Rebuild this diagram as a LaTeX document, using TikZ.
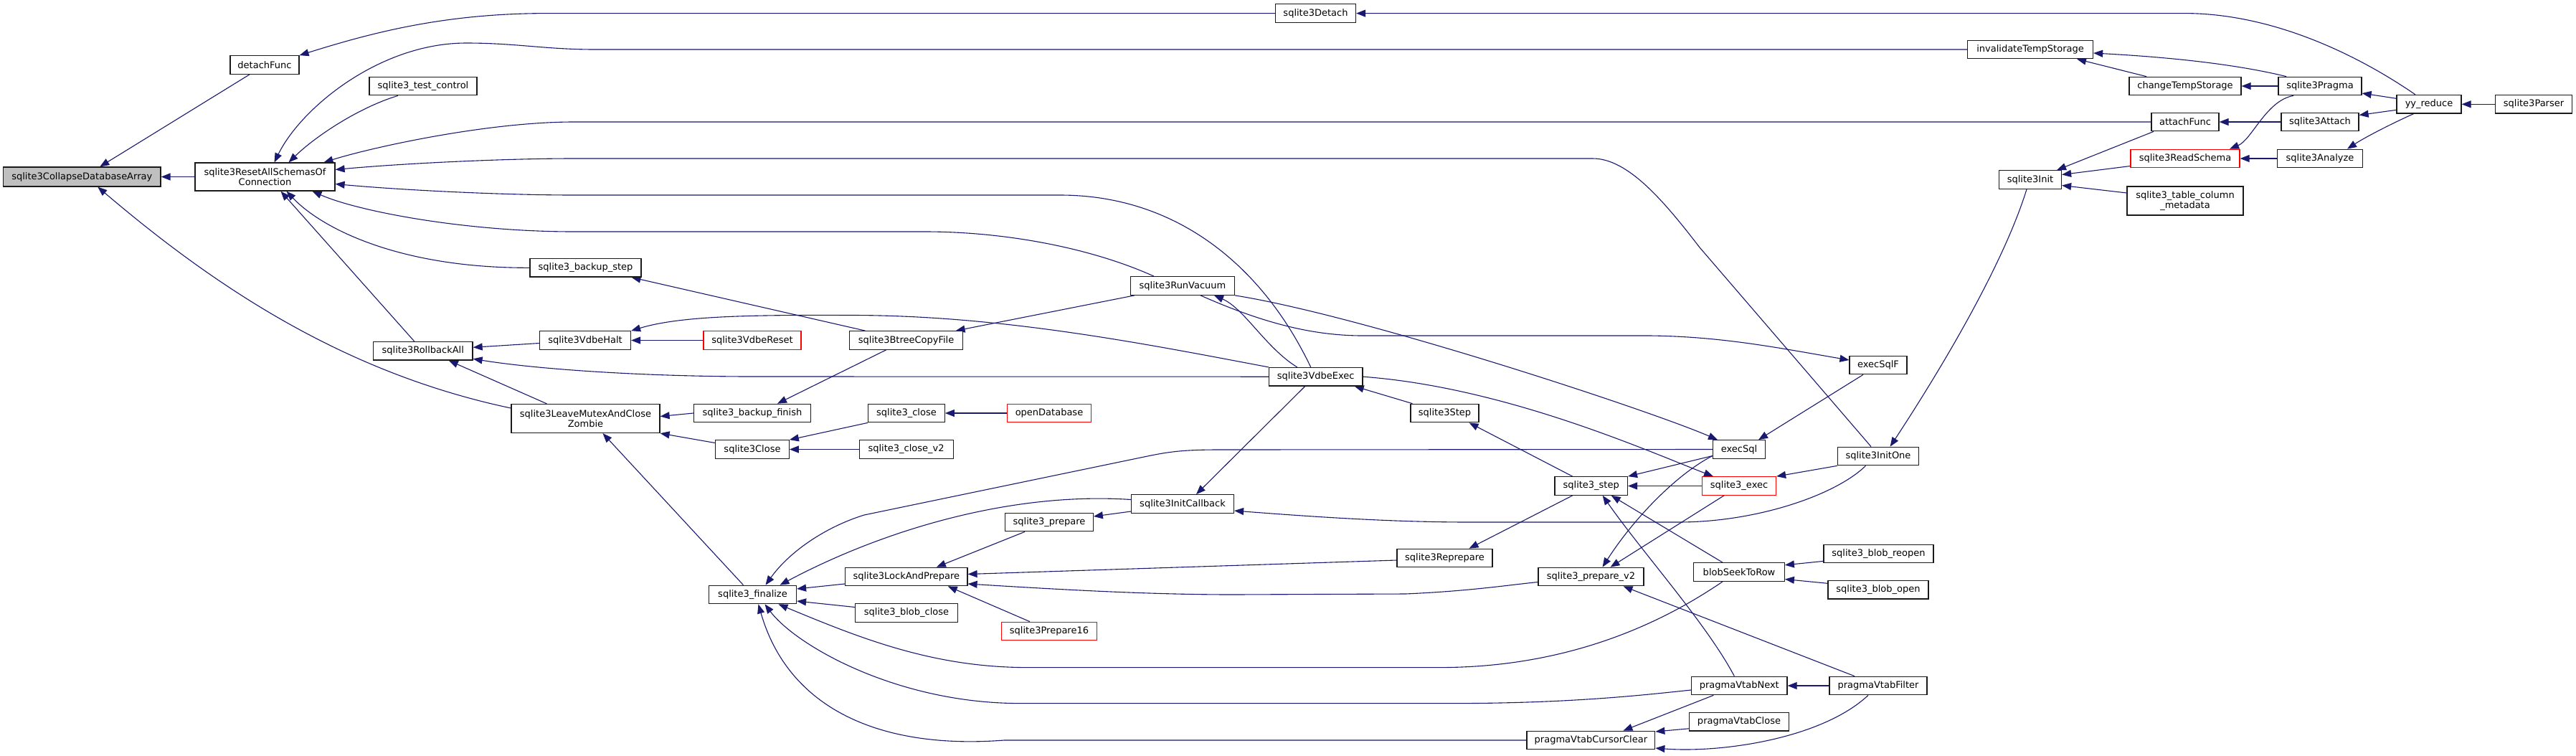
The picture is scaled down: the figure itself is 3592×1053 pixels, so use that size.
\documentclass[tikz,border=0pt]{standalone}
\usepackage{fontspec}
\setmainfont{DejaVu Sans}
\usetikzlibrary{arrows.meta,backgrounds}
\definecolor{ecol}{HTML}{191970}
\definecolor{mainfill}{HTML}{BFBFBF}
\definecolor{bcol}{HTML}{1A1A1A}
\definecolor{rcol}{HTML}{FF0000}
\begin{document}
\begin{tikzpicture}[x=1pt,y=-1pt,
  nbox/.style={draw=bcol, line width=1.2pt, fill=white, minimum height=25.5pt, inner sep=1pt, font=\fontsize{13}{14.5}\selectfont, text=black},
  rbox/.style={nbox, draw=rcol},
  tbox/.style={nbox, minimum height=40pt, align=center},
  edg/.style={draw=ecol, line width=1.1pt, {Triangle[length=13pt,width=10pt]}-},
]
\useasboundingbox (0,0) rectangle (3592,1053);
% nodes
\node[nbox, fill=mainfill, minimum width=219.4pt, minimum height=27pt] (main) at (114.3,246.5) {sqlite3CollapseDatabaseArray};
\node[nbox, minimum width=96pt] (detachf) at (369,90.5) {detachFunc};
\node[tbox, minimum width=195pt, minimum height=39pt] (reset) at (369.5,246.5) {sqlite3ResetAllSchemasOf\\Connection};
\node[nbox, minimum width=150pt] (tc) at (590,120) {sqlite3\_test\_control};
\node[nbox, minimum width=138.5pt] (rollback) at (589.8,489.3) {sqlite3RollbackAll};
\node[nbox, minimum width=155pt] (bstep) at (816.5,373.3) {sqlite3\_backup\_step};
\node[nbox, minimum width=127pt] (vhalt) at (816,474.5) {sqlite3VdbeHalt};
\node[rbox, minimum width=136pt] (vreset) at (1049,474.5) {sqlite3VdbeReset};
\node[nbox, minimum width=158pt] (btree) at (1263.6,474.5) {sqlite3BtreeCopyFile};
\node[tbox, minimum width=207pt] (leave) at (816.5,583.5) {sqlite3LeaveMutexAndClose\\Zombie};
\node[nbox, minimum width=163pt] (bfinish) at (1049,576) {sqlite3\_backup\_finish};
\node[nbox, minimum width=102.5pt] (close) at (1049,626.5) {sqlite3Close};
\node[nbox, minimum width=122pt] (finalize) at (1049.5,829) {sqlite3\_finalize};
\node[nbox, minimum width=144.5pt] (runvac) at (1649,398.5) {sqlite3RunVacuum};
\node[nbox, minimum width=130.7pt] (vdbeexec) at (1834.7,525.2) {sqlite3VdbeExec};
\node[nbox, minimum width=106.5pt] (sclose) at (1264,576) {sqlite3\_close};
\node[rbox, minimum width=116.5pt] (opendb) at (1463,576) {openDatabase};
\node[nbox, minimum width=131pt] (closev2) at (1263.6,626.5) {sqlite3\_close\_v2};
\node[nbox, minimum width=143pt] (initcb) at (1649,702.5) {sqlite3InitCallback};
\node[nbox, minimum width=122.5pt] (prepare) at (1463,728) {sqlite3\_prepare};
\node[nbox, minimum width=170.4pt] (lockprep) at (1263.8,804) {sqlite3LockAndPrepare};
\node[nbox, minimum width=143pt] (blobclose) at (1264,854.5) {sqlite3\_blob\_close};
\node[rbox, minimum width=132.5pt] (prep16) at (1463,880) {sqlite3Prepare16};
\node[nbox, minimum width=112pt] (detach) at (1834.5,18.6) {sqlite3Detach};
\node[nbox, minimum width=95pt] (vstep) at (2014.5,576) {sqlite3Step};
\node[nbox, minimum width=101.5pt] (sstep) at (2218.7,677.5) {sqlite3\_step};
\node[nbox, minimum width=133pt] (reprep) at (2014.5,778) {sqlite3Reprepare};
\node[nbox, minimum width=147pt] (prepv2) at (2218.5,804) {sqlite3\_prepare\_v2};
\node[nbox, minimum width=178.7pt] (cclear) at (2218.4,1032) {pragmaVtabCursorClear};
\node[nbox, minimum width=175pt] (inv) at (2831,69) {invalidateTempStorage};
\node[nbox, minimum width=87pt] (sinit) at (2831,250.5) {sqlite3Init};
\node[nbox, minimum width=80pt] (execsqlf) at (2619,509) {execSqlF};
\node[nbox, minimum width=73pt] (execsql) at (2425,626.5) {execSql};
\node[nbox, minimum width=113pt] (initone) at (2619,636) {sqlite3InitOne};
\node[rbox, minimum width=103pt] (sexec) at (2425,677.5) {sqlite3\_exec};
\node[nbox, minimum width=126.6pt] (seek) at (2425,797.5) {blobSeekToRow};
\node[nbox, minimum width=153pt] (breopen) at (2619.5,772) {sqlite3\_blob\_reopen};
\node[nbox, minimum width=140pt] (bopen) at (2619,822.3) {sqlite3\_blob\_open};
\node[nbox, minimum width=133.4pt] (vnext) at (2425.3,956) {pragmaVtabNext};
\node[nbox, minimum width=136pt] (vfilter) at (2619,956) {pragmaVtabFilter};
\node[nbox, minimum width=139pt] (vclose) at (2425,1006.3) {pragmaVtabClose};
\node[nbox, minimum width=156pt] (ctemp) at (3047,120) {changeTempStorage};
\node[nbox, minimum width=116pt] (pragma) at (3235,120) {sqlite3Pragma};
\node[nbox, minimum width=90pt] (yy) at (3387,145.3) {yy\_reduce};
\node[nbox, minimum width=107pt] (parser) at (3533,145.3) {sqlite3Parser};
\node[nbox, minimum width=94pt] (attachf) at (3047,170) {attachFunc};
\node[nbox, minimum width=108pt] (attach) at (3235,170) {sqlite3Attach};
\node[rbox, minimum width=152pt] (readschema) at (3047,221) {sqlite3ReadSchema};
\node[nbox, minimum width=119pt] (analyze) at (3235,221) {sqlite3Analyze};
\node[tbox, minimum width=162pt] (tcm) at (3047,280) {sqlite3\_table\_column\\\_metadata};
% edges
\begin{scope}[on background layer]
\fill[white] (0,0) rectangle (3592,1053);
\draw[edg] ([xshift=25pt]main.north) -- ([xshift=-21pt]detachf.south);
\draw[edg] (main.east) -- (reset.west);
\draw[edg] ([xshift=22pt]main.south) .. controls (300,400) and (480,520) .. ([yshift=14.5pt]leave.west);
\draw[edg] (detachf.north east) .. controls (520,45) and (620,19) .. (760,18.6) -- (detach.west);
\draw[edg] (detach.east) -- (3050,18.6) .. controls (3180,20) and (3300,85) .. ([xshift=-19pt]yy.north);
\draw[edg] ([xshift=13pt]reset.north) .. controls (420,150) and (530,60) .. (650,60) .. controls (720,60) and (760,69) .. (830,69) -- (inv.west);
\draw[edg] ([xshift=33pt]reset.north) .. controls (440,190) and (500,150) .. ([xshift=-35pt]tc.south);
\draw[edg] ([xshift=82pt]reset.north) .. controls (520,205) and (680,170) .. (800,170) -- (attachf.west);
\draw[edg] ([yshift=10pt]reset.east) .. controls (560,228) and (700,221) .. (800,221) -- (2221,221) .. controls (2270,221) and (2320,280) .. (2370,345) -- ([xshift=-10pt]initone.north);
\draw[edg] ([yshift=-10pt]reset.east) .. controls (560,265) and (700,272) .. (800,272) -- (1478,272) .. controls (1640,272) and (1760,370) .. ([xshift=-7pt]vdbeexec.north);
\draw[edg] ([xshift=66pt]reset.south) .. controls (500,295) and (650,323) .. (800,323) -- (1290,323) .. controls (1400,323) and (1520,345) .. ([xshift=-40pt]runvac.north);
\draw[edg] ([xshift=30pt]reset.south) .. controls (450,320) and (560,374) .. (bstep.west);
\draw[edg] ([xshift=22pt]reset.south) -- ([xshift=-12pt]rollback.north);
\draw[edg] ([yshift=5pt]rollback.east) -- ([yshift=-4pt]vhalt.west);
\draw[edg] ([yshift=-11pt]rollback.east) .. controls (750,515) and (900,525) .. (1050,525) -- (vdbeexec.west);
\draw[edg] ([xshift=36pt]rollback.south) -- ([xshift=-54pt]leave.north);
\draw[edg] (vhalt.east) -- (vreset.west);
\draw[edg] (vhalt.north east) .. controls (950,440) and (1050,439) .. (1190,439.5) .. controls (1400,440) and (1600,480) .. (vdbeexec.north west);
\draw[edg] ([xshift=64pt]bstep.south) -- ([xshift=-57pt]btree.north);
\draw[edg] ([xshift=35pt]bfinish.north) -- ([xshift=-28pt]btree.south);
\draw[edg] ([xshift=69pt]btree.north) -- ([xshift=-67pt]runvac.south);
\draw[edg] ([xshift=44pt]runvac.south) .. controls (1735,430) and (1765,485) .. ([xshift=-26pt]vdbeexec.north);
\draw[edg] ([yshift=7pt]execsqlf.west) .. controls (2480,485) and (2400,469) .. (2300,468) -- (1900,468) .. controls (1830,468) and (1760,450) .. ([xshift=25pt]runvac.south);
\draw[edg] ([xshift=-30pt]execsql.north) .. controls (2300,572) and (1900,440) .. (runvac.south east);
\draw[edg] ([yshift=3pt]leave.east) -- (bfinish.west);
\draw[edg] (leave.south east) -- ([yshift=9pt]close.west);
\draw[edg] ([xshift=24pt]leave.south) -- ([xshift=-13pt]finalize.north);
\draw[edg] (close.north east) -- (sclose.south west);
\draw[edg] (close.east) -- (closev2.west);
\draw[edg] (sclose.east) -- (opendb.west);
\draw[edg] ([xshift=18pt]finalize.north) .. controls (1100,770) and (1150,735) .. (1205,718) -- (1600,636) .. controls (1630,629.8) and (1650,627) .. (1700,627) -- (execsql.west);
\draw[edg] ([xshift=38pt]finalize.north) .. controls (1220,745) and (1400,685) .. ([yshift=6pt]initcb.west);
\draw[edg] ([yshift=8pt]finalize.east) -- ([yshift=-10pt]lockprep.west);
\draw[edg] ([yshift=-9pt]finalize.east) -- ([yshift=8pt]blobclose.west);
\draw[edg] ([xshift=36pt]finalize.south) .. controls (1200,890) and (1300,930) .. (1430,930.6) -- (2010,930.6) .. controls (2200,930) and (2330,860) .. ([xshift=-23pt]seek.south);
\draw[edg] ([xshift=17pt]finalize.south) .. controls (1110,900) and (1250,980) .. (1420,980.6) -- (2040,980.6) .. controls (2200,980) and (2300,968) .. ([yshift=-6pt]vnext.west);
\draw[edg] ([xshift=8pt]finalize.south) .. controls (1100,990) and (1230,1045) .. (1400,1032) -- (cclear.west);
\draw[edg] ([xshift=42pt]lockprep.north) -- ([xshift=-34pt]prepare.south);
\draw[edg] ([xshift=58pt]lockprep.south) -- ([xshift=-27pt]prep16.north);
\draw[edg] ([yshift=3.5pt]lockprep.east) -- ([yshift=-3pt]reprep.west);
\draw[edg] ([yshift=-10pt]lockprep.east) .. controls (1480,822) and (1600,829) .. (1720,829) -- (1960,828) .. controls (2050,824) and (2100,816) .. ([yshift=-7.5pt]prepv2.west);
\draw[edg] ([yshift=8pt]prepare.east) -- ([yshift=-10.5pt]initcb.west);
\draw[edg] ([yshift=-9.5pt]initcb.east) .. controls (1850,722) and (1950,728) .. (2050,728) -- (2340,728) .. controls (2450,728) and (2560,690) .. ([xshift=-17.5pt]initone.south);
\draw[edg] ([xshift=19pt]initcb.north) -- ([xshift=-15pt]vdbeexec.south);
\draw[edg] ([xshift=54pt]vdbeexec.south) -- ([xshift=-45pt]vstep.north);
\draw[edg] ([xshift=-36pt]sexec.north) .. controls (2300,630) and (2100,540) .. (vdbeexec.east);
\draw[edg] ([xshift=34pt]vstep.south) -- ([xshift=-26pt]sstep.north);
\draw[edg] ([xshift=34pt]reprep.north) -- ([xshift=-26pt]sstep.south);
\draw[edg] (sstep.north east) -- ([yshift=-9pt]execsql.west);
\draw[edg] (sstep.east) -- (sexec.west);
\draw[edg] ([xshift=28pt]sstep.south) -- ([xshift=-23pt]seek.north);
\draw[edg] ([xshift=16pt]sstep.south) .. controls (2290,770) and (2380,870) .. ([xshift=-7pt]vnext.north);
\draw[edg] ([xshift=16pt]prepv2.north) .. controls (2280,720) and (2340,660) .. ([yshift=-9pt]execsql.west);
\draw[edg] ([xshift=27pt]prepv2.north) -- ([xshift=-21pt]sexec.south);
\draw[edg] ([xshift=45pt]prepv2.south) -- ([xshift=-33pt]vfilter.north);
\draw[edg] ([xshift=45pt]cclear.north) -- ([xshift=-36pt]vnext.south);
\draw[edg] ([yshift=12pt]cclear.east) -- ([yshift=-9.5pt]vclose.west);
\draw[edg] ([yshift=-11pt]cclear.east) .. controls (2400,1050) and (2540,1030) .. ([xshift=-14pt]vfilter.south);
\draw[edg] (vnext.east) -- (vfilter.west);
\draw[edg] ([yshift=9.7pt]seek.east) -- ([yshift=-10.4pt]breopen.west);
\draw[edg] ([yshift=-10pt]seek.east) -- ([yshift=9pt]bopen.west);
\draw[edg] ([xshift=27pt]execsql.north) -- ([xshift=-21pt]execsqlf.south);
\draw[edg] (sexec.north east) -- (initone.south west);
\draw[edg] ([xshift=16.6pt]initone.north) .. controls (2690,540) and (2790,380) .. ([xshift=-5pt]sinit.south);
\draw[edg] ([xshift=37pt]sinit.north) -- ([xshift=-44pt]attachf.south);
\draw[edg] ([yshift=7pt]sinit.east) -- ([yshift=-10.5pt]readschema.west);
\draw[edg] ([yshift=-8pt]sinit.east) -- ([yshift=11pt]tcm.west);
\draw[edg] ([yshift=-5pt]inv.east) .. controls (3030,80) and (3120,90) .. ([xshift=-47pt]pragma.north);
\draw[edg] ([xshift=65pt]inv.south) -- ([xshift=-54pt]ctemp.north);
\draw[edg] (ctemp.east) -- (pragma.west);
\draw[edg] ([xshift=62pt]readschema.north) .. controls (3140,195) and (3160,140) .. ([xshift=-37pt]pragma.south);
\draw[edg] (attachf.east) -- (attach.west);
\draw[edg] (readschema.east) -- (analyze.west);
\draw[edg] ([yshift=-10pt]pragma.east) -- ([yshift=8pt]yy.west);
\draw[edg] ([yshift=9.5pt]attach.east) -- ([yshift=-8pt]yy.west);
\draw[edg] ([xshift=38pt]analyze.north) .. controls (3300,190) and (3340,170) .. ([xshift=-21.5pt]yy.south);
\draw[edg] (yy.east) -- (parser.west);
\end{scope}
\end{tikzpicture}
\end{document}
